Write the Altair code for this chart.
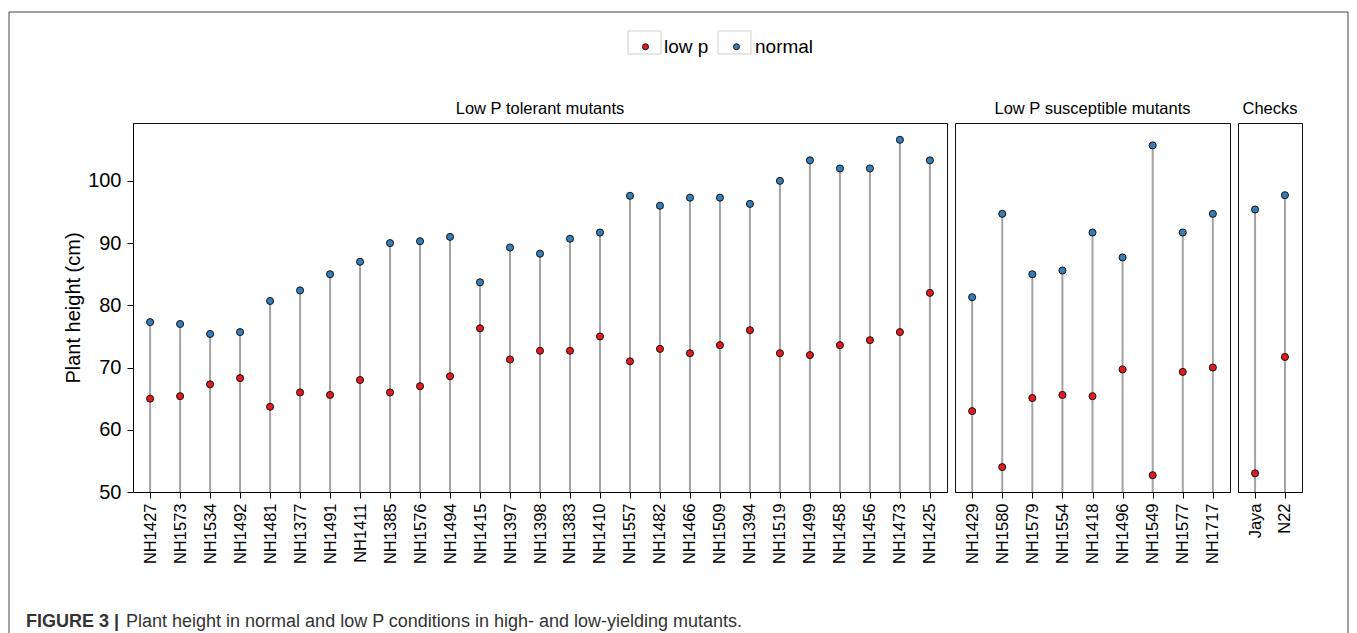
import altair as alt
import pandas as pd

# ---------------- data ----------------
tol_genotypes = ["NH1427", "NH1573", "NH1534", "NH1492", "NH1481", "NH1377", "NH1491",
                 "NH1411", "NH1385", "NH1576", "NH1494", "NH1415", "NH1397", "NH1398",
                 "NH1383", "NH1410", "NH1557", "NH1482", "NH1466", "NH1509", "NH1394",
                 "NH1519", "NH1499", "NH1458", "NH1456", "NH1473", "NH1425"]
tol_normal = [77.3, 77.0, 75.4, 75.7, 80.7, 82.4, 85.0, 87.0, 90.0, 90.3, 91.0, 83.7, 89.3,
              88.3, 90.7, 91.7, 97.6, 96.0, 97.3, 97.3, 96.3, 100.0, 103.3, 102.0, 102.0,
              106.6, 103.3]
tol_low = [65.0, 65.4, 67.3, 68.3, 63.7, 66.0, 65.6, 68.0, 66.0, 67.0, 68.6, 76.3, 71.3,
           72.7, 72.7, 75.0, 71.0, 73.0, 72.3, 73.6, 76.0, 72.3, 72.0, 73.6, 74.4, 75.7, 82.0]

sus_genotypes = ["NH1429", "NH1580", "NH1579", "NH1554", "NH1418", "NH1496", "NH1549",
                 "NH1577", "NH1717"]
sus_normal = [81.3, 94.7, 85.0, 85.6, 91.7, 87.7, 105.7, 91.7, 94.7]
sus_low = [63.0, 54.0, 65.1, 65.6, 65.4, 69.7, 52.7, 69.3, 70.0]

chk_genotypes = ["Jaya", "N22"]
chk_normal = [95.4, 97.7]
chk_low = [53.0, 71.7]

panel_titles = ["Low P tolerant mutants", "Low P susceptible mutants", "Checks"]
conditions = ["low p", "normal"]
cond_colors = ["#E41A1C", "#377EB8"]
y_ticks = [50, 60, 70, 80, 90, 100]
caption_bold = "FIGURE 3 |"
caption_text = "Plant height in normal and low P conditions in high- and low-yielding mutants."

FONT = "Liberation Sans"
Y_DOMAIN = [50, 109.3]
HEIGHT = 369
W1, W2, W3, GAP = 814, 275, 64, 8


def panel(genos, normal, low, title, width, show_y):
    df = pd.DataFrame({"genotype": genos, "normal": normal, "low": low})
    long = pd.DataFrame({
        "genotype": genos * 2,
        "condition": [conditions[0]] * len(genos) + [conditions[1]] * len(genos),
        "height": low + normal,
    })
    xenc = alt.X("genotype:N", sort=genos,
                 scale=alt.Scale(type="point", padding=0.57),
                 axis=alt.Axis(title=None, labelAngle=-90, labelFontSize=16.5,
                               labelPadding=5, tickSize=6, labelFont=FONT,
                               labelColor="#000", tickColor="#000", domainColor="#000"))
    yscale = alt.Scale(domain=Y_DOMAIN, nice=False, zero=False)
    if show_y:
        yaxis = alt.Axis(values=y_ticks, title="Plant height (cm)", titleFontSize=20,
                         titleFontWeight="normal", titleFont=FONT, labelFont=FONT,
                         labelFontSize=20, labelPadding=6, tickSize=6, titlePadding=4,
                         grid=False, labelColor="#000", titleColor="#000",
                         tickColor="#000", domainColor="#000")
    else:
        yaxis = None
    stems = alt.Chart(df).mark_rule(color="#a3a3a3", strokeWidth=2).encode(
        x=xenc,
        y=alt.Y("normal:Q", scale=yscale, axis=yaxis),
        y2=alt.datum(50),
    )
    pts = alt.Chart(long).mark_circle(size=50, opacity=1, stroke="#111", strokeWidth=1).encode(
        x=xenc,
        y=alt.Y("height:Q", scale=yscale, axis=yaxis),
        fill=alt.Fill("condition:N",
                      scale=alt.Scale(domain=conditions, range=cond_colors),
                      legend=alt.Legend(title=None, orient="none", legendX=503, legendY=-86,
                                        direction="horizontal", symbolType="circle",
                                        symbolSize=36, symbolStrokeColor="#111",
                                        symbolStrokeWidth=1, labelFontSize=19,
                                        labelFont=FONT, labelColor="#000",
                                        labelOffset=9, columnPadding=18, padding=0)),
    )
    return alt.layer(stems, pts).properties(
        width=width, height=HEIGHT,
        title=alt.TitleParams(title, fontSize=16.5, font=FONT, fontWeight="normal",
                              color="#000", offset=6, anchor="middle"),
    )


# decoration cell (figure frame, legend key boxes, caption); its origin sits
# to the right of the third panel, so positions are given relative to panel 1
DX = -(W1 + W2 + W3 + 3 * GAP)
one = pd.DataFrame({"k": [0]})
frame = alt.Chart(one).mark_rect(fillOpacity=0, stroke="#444", strokeWidth=1).encode(
    x=alt.value(-124 + DX), x2=alt.value(1215 + DX), y=alt.value(-111), y2=alt.value(530))
key1 = alt.Chart(one).mark_rect(fillOpacity=0, stroke="#cfcfcf", strokeWidth=1).encode(
    x=alt.value(495 + DX), x2=alt.value(528 + DX), y=alt.value(-92), y2=alt.value(-69))
key2 = alt.Chart(one).mark_rect(fillOpacity=0, stroke="#cfcfcf", strokeWidth=1).encode(
    x=alt.value(585 + DX), x2=alt.value(618 + DX), y=alt.value(-92), y2=alt.value(-69))
cap1 = alt.Chart(one).mark_text(text=caption_bold, font=FONT, fontWeight="bold",
                                fontSize=18, align="left", baseline="alphabetic",
                                color="#333").encode(x=alt.value(-107 + DX), y=alt.value(504))
cap2 = alt.Chart(one).mark_text(text=caption_text, font=FONT, fontSize=18, align="left",
                                baseline="alphabetic", color="#333").encode(
    x=alt.value(-7 + DX), y=alt.value(504))
deco = alt.layer(frame, key1, key2, cap1, cap2).properties(
    width=1, height=1, view=alt.ViewBackground(strokeOpacity=0))

p1 = panel(tol_genotypes, tol_normal, tol_low, panel_titles[0], W1, True)
p2 = panel(sus_genotypes, sus_normal, sus_low, panel_titles[1], W2, False)
p3 = panel(chk_genotypes, chk_normal, chk_low, panel_titles[2], W3, False)

chart = alt.hconcat(p1, p2, p3, deco, spacing=GAP, bounds="flush").properties(
    padding={"left": 0, "top": 3, "right": 0, "bottom": 0},
    background="white",
).configure_view(stroke="#111", strokeWidth=1)

chart.save("out.html", embed_options={"renderer": "svg", "actions": False})
